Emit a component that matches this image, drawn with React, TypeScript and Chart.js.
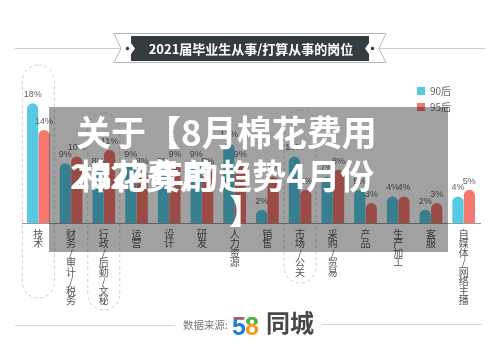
import React, { useEffect, useRef } from 'react';
import { Chart, registerables } from 'chart.js';

Chart.register(...registerables);

const categories = ['技术', '财务/审计/税务', '行政/后勤/文秘', '运营', '设计', '研发', '人力资源', '销售', '市场/公关', '采购/贸易', '产品', '生产加工', '客服', '自媒体/网络主播'];
const series90 = [18, 9, 8, 9, 8, 9, 12, 2, 10, 7, 5, 4, 2, 4];
const series95 = [14, 10, 11, 8, 9, 8, 9, 7, 5, 8, 3, 4, 3, 5];
const seriesNames = ['90后', '95后'];
const seriesColors = ['#58c9e2', '#f5776f'];
const yMax = 20;
const titleText = '2021届毕业生从事/打算从事的岗位';
const sourceLabel = '数据来源:';
const brandText = '同城';
const overlayLines = ['关于【8月棉花费用', '2024年的趋势4月份', '】'];
const overlayGhost = '棉花费用';
const highlights = [
  { index: 0, top: 65, bottom: 298 },
  { index: 2, top: 113, bottom: 310 },
  { index: 8, top: 110, bottom: 283 },
];

const CJK = '"Noto Sans CJK SC", "Liberation Sans", sans-serif';

function roundRectPath(ctx: CanvasRenderingContext2D, x: number, y: number, w: number, h: number, r: number) {
  ctx.beginPath();
  ctx.moveTo(x + r, y);
  ctx.lineTo(x + w - r, y);
  ctx.arc(x + w - r, y + r, r, -Math.PI / 2, 0);
  ctx.lineTo(x + w, y + h - r);
  ctx.arc(x + w - r, y + h - r, r, 0, Math.PI / 2);
  ctx.lineTo(x + r, y + h);
  ctx.arc(x + r, y + h - r, r, Math.PI / 2, Math.PI);
  ctx.lineTo(x, y + r);
  ctx.arc(x + r, y + r, r, Math.PI, Math.PI * 1.5);
  ctx.closePath();
}

const decorPlugin = {
  id: 'decor',
  beforeDatasetsDraw(chart: any) {
    const ctx: CanvasRenderingContext2D = chart.ctx;
    const xs = chart.scales.x;
    ctx.save();
    ctx.strokeStyle = '#dcc9b8';
    ctx.lineWidth = 1;
    ctx.setLineDash([3, 3]);
    highlights.forEach((h) => {
      const cx = xs.getPixelForValue(h.index);
      roundRectPath(ctx, cx - 16, h.top, 32, h.bottom - h.top, 16);
      ctx.stroke();
    });
    ctx.restore();
  },
  afterDatasetsDraw(chart: any) {
    const ctx: CanvasRenderingContext2D = chart.ctx;
    ctx.save();
    ctx.font = '9px "Liberation Sans", sans-serif';
    ctx.fillStyle = '#666';
    ctx.textAlign = 'center';
    ctx.textBaseline = 'bottom';
    chart.data.datasets.forEach((ds: any, di: number) => {
      const meta = chart.getDatasetMeta(di);
      meta.data.forEach((bar: any, i: number) => {
        ctx.fillText(ds.data[i] + '%', bar.x, bar.y - 4);
      });
    });
    ctx.restore();
  },
  afterDraw(chart: any) {
    const ctx: CanvasRenderingContext2D = chart.ctx;
    ctx.save();
    // title line + ribbon
    ctx.strokeStyle = '#cfcfcf';
    ctx.lineWidth = 1;
    ctx.beginPath();
    ctx.moveTo(15, 48.5);
    ctx.lineTo(485, 48.5);
    ctx.stroke();
    ctx.fillStyle = '#ffffff';
    ctx.strokeStyle = '#b8b8b8';
    ctx.beginPath();
    ctx.moveTo(114, 33.5);
    ctx.lineTo(386, 33.5);
    ctx.lineTo(379, 48.5);
    ctx.lineTo(386, 62.5);
    ctx.lineTo(114, 62.5);
    ctx.lineTo(121, 48.5);
    ctx.closePath();
    ctx.fill();
    ctx.stroke();
    ctx.fillStyle = '#333c40';
    ctx.beginPath();
    ctx.moveTo(131, 36);
    ctx.lineTo(369, 36);
    ctx.lineTo(369, 43);
    ctx.lineTo(365, 48.5);
    ctx.lineTo(369, 54);
    ctx.lineTo(369, 61);
    ctx.lineTo(131, 61);
    ctx.lineTo(131, 54);
    ctx.lineTo(135, 48.5);
    ctx.lineTo(131, 43);
    ctx.closePath();
    ctx.fill();
    ctx.beginPath();
    ctx.arc(127.5, 48.5, 1.8, 0, Math.PI * 2);
    ctx.arc(372.5, 48.5, 1.8, 0, Math.PI * 2);
    ctx.fillStyle = '#333c40';
    ctx.fill();
    ctx.fillStyle = '#ffffff';
    ctx.font = 'bold 13px ' + CJK;
    ctx.textAlign = 'center';
    ctx.textBaseline = 'middle';
    ctx.fillText(titleText, 251, 49);

    // legend
    ctx.textAlign = 'left';
    ctx.font = '10px ' + CJK;
    seriesNames.forEach((name, i) => {
      const y = 87 + i * 16;
      ctx.fillStyle = seriesColors[i];
      ctx.fillRect(417, y, 8, 8);
      ctx.fillStyle = '#666';
      ctx.fillText(name, 430, y + 4);
    });

    // footer
    ctx.strokeStyle = '#d6d6d6';
    ctx.beginPath();
    ctx.moveTo(15, 325.5);
    ctx.lineTo(175, 325.5);
    ctx.moveTo(322, 324.5);
    ctx.lineTo(482, 324.5);
    ctx.stroke();
    ctx.fillStyle = '#777';
    ctx.font = '10.5px ' + CJK;
    ctx.textBaseline = 'middle';
    ctx.fillText(sourceLabel, 183, 325);
    ctx.textBaseline = 'alphabetic';
    ctx.font = 'bold 25px "Liberation Sans", sans-serif';
    ctx.save();
    ctx.beginPath();
    ctx.rect(230, 300, 16, 40);
    ctx.clip();
    ctx.fillStyle = '#1c7fd6';
    ctx.fillText('5', 232, 335);
    ctx.beginPath();
    ctx.rect(230, 300, 16, 19);
    ctx.clip();
    ctx.fillStyle = '#e8453c';
    ctx.fillText('5', 232, 335);
    ctx.restore();
    ctx.save();
    ctx.fillStyle = '#f29b1f';
    ctx.fillText('8', 245, 335);
    ctx.beginPath();
    ctx.rect(244, 300, 16, 24);
    ctx.clip();
    ctx.fillStyle = '#4fb848';
    ctx.fillText('8', 245, 335);
    ctx.restore();
    ctx.fillStyle = '#474747';
    ctx.font = 'bold 24px ' + CJK;
    ctx.textBaseline = 'middle';
    ctx.fillText(brandText, 266, 323);

    // overlay
    ctx.fillStyle = 'rgba(0,0,0,0.37)';
    ctx.fillRect(49, 107, 399, 145);
    ctx.fillStyle = '#ffffff';
    ctx.textBaseline = 'middle';
    ctx.textAlign = 'left';
    ctx.font = 'bold 35px ' + CJK;
    ctx.fillText(overlayLines[0], 76, 133);
    ctx.font = 'bold 34px ' + CJK;
    ctx.fillText(overlayLines[1], 70, 176);
    ctx.fillText(overlayGhost, 78, 176);
    ctx.fillText(overlayLines[2], 229, 211);
    ctx.restore();
  },
};

export default function App() {
  const ref = useRef<HTMLCanvasElement | null>(null);
  useEffect(() => {
    if (!ref.current) return;
    Chart.defaults.font.family = CJK;
    const chart = new Chart(ref.current, {
      type: 'bar',
      data: {
        labels: categories.map((c) => c.split('')),
        datasets: [
          {
            label: seriesNames[0],
            data: series90,
            backgroundColor: seriesColors[0],
            borderRadius: { topLeft: 6, topRight: 6, bottomLeft: 0, bottomRight: 0 },
            borderSkipped: false,
            categoryPercentage: 0.7,
            barPercentage: 0.98,
          },
          {
            label: seriesNames[1],
            data: series95,
            backgroundColor: seriesColors[1],
            borderRadius: { topLeft: 6, topRight: 6, bottomLeft: 0, bottomRight: 0 },
            borderSkipped: false,
            categoryPercentage: 0.7,
            barPercentage: 0.98,
          },
        ],
      },
      options: {
        responsive: false,
        animation: false,
        devicePixelRatio: 1,
        layout: { padding: { left: 22, right: 20, top: 90, bottom: 0 } },
        plugins: { legend: { display: false }, tooltip: { enabled: false }, title: { display: false } },
        scales: {
          y: { display: false, min: 0, max: yMax },
          x: {
            grid: { display: false, drawTicks: false },
            border: { display: true, color: '#9a9a9a', width: 1 },
            ticks: {
              autoSkip: false,
              maxRotation: 0,
              minRotation: 0,
              padding: 6,
              color: '#555',
              font: { size: 10, lineHeight: 0.95, family: CJK },
            },
            afterFit: (scale: any) => {
              scale.height = 136;
            },
          },
        },
      },
      plugins: [decorPlugin],
    });
    return () => chart.destroy();
  }, []);
  return (
    <div style={{ position: 'absolute', left: 0, top: 0, width: 500, height: 359, background: '#fff' }}>
      <canvas ref={ref} width={500} height={359} />
    </div>
  );
}
